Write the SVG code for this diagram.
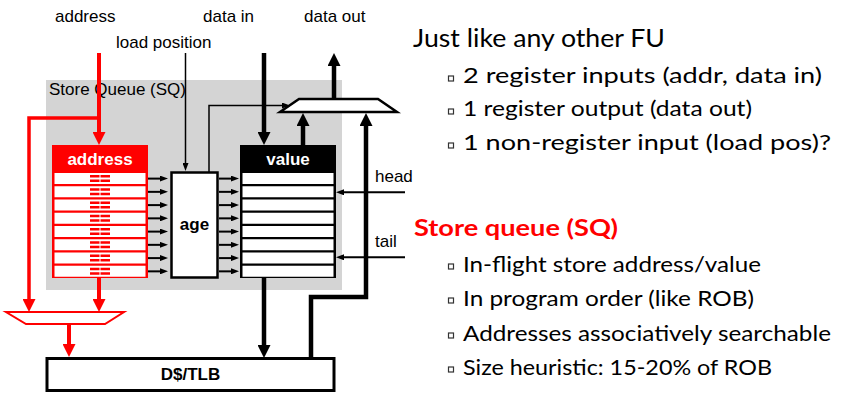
<svg xmlns="http://www.w3.org/2000/svg" width="847" height="420" viewBox="0 0 847 420">
<defs>
<style>
.lbl{font-family:"Liberation Sans",Arial,sans-serif;font-size:17px;fill:#000}
.bold{font-family:"Liberation Sans",Arial,sans-serif;font-size:17px;font-weight:bold}
.note{font-family:Lato,"Open Sans",sans-serif;font-size:22px;fill:#000}
.bul{fill:none;stroke:#333;stroke-width:1.2}
.red{stroke:#ff0000;fill:none}
.blk{stroke:#000;fill:none}
.row{fill:#fff}
.dash{fill:#ff0000}
</style>
<marker id="bigK" markerUnits="userSpaceOnUse" markerWidth="13" markerHeight="13" refX="1" refY="6.5" orient="auto"><path d="M0,0 L13,6.5 L0,13 z" fill="#000"/></marker>
<marker id="bigR" markerUnits="userSpaceOnUse" markerWidth="13" markerHeight="13" refX="1" refY="6.5" orient="auto"><path d="M0,0 L13,6.5 L0,13 z" fill="#ff0000"/></marker>
<marker id="smK" markerUnits="userSpaceOnUse" markerWidth="8" markerHeight="6" refX="1" refY="3" orient="auto"><path d="M0,0 L8,3 L0,6 z" fill="#000"/></marker>
<g id="dashpair"><rect class="dash" x="90" y="0" width="9.5" height="2.5"/><rect class="dash" x="100.5" y="0" width="9.5" height="2.5"/><rect class="dash" x="90" y="4.5" width="9.5" height="2.5"/><rect class="dash" x="100.5" y="4.5" width="9.5" height="2.5"/></g>
</defs>
<rect width="847" height="420" fill="#fff"/>

<g id="store-queue">
<rect x="46" y="80" width="296" height="210" fill="#d4d4d4"/>
<text class="lbl" x="49" y="95">Store Queue (SQ)</text>
</g>

<g id="label-address"><text class="lbl" x="55" y="22">address</text></g>
<g id="label-load-position"><text class="lbl" x="116" y="48">load position</text></g>
<g id="label-data-in"><text class="lbl" x="203" y="22">data in</text></g>
<g id="label-data-out"><text class="lbl" x="304" y="22">data out</text></g>
<g id="label-head"><text class="lbl" x="375" y="182">head</text></g>
<g id="label-tail"><text class="lbl" x="375" y="247">tail</text></g>

<g id="address-array">
<rect x="52" y="145" width="96" height="133" fill="#ff0000"/>
<text class="bold" x="100" y="165" text-anchor="middle" fill="#fff">address</text>
<rect class="row" x="54.5" y="173" width="91" height="11"/>
<rect class="row" x="54.5" y="186.25" width="91" height="11"/>
<rect class="row" x="54.5" y="199.5" width="91" height="11"/>
<rect class="row" x="54.5" y="212.75" width="91" height="11"/>
<rect class="row" x="54.5" y="226" width="91" height="11"/>
<rect class="row" x="54.5" y="239.25" width="91" height="11"/>
<rect class="row" x="54.5" y="252.5" width="91" height="11"/>
<rect class="row" x="54.5" y="265.75" width="91" height="11"/>
<use href="#dashpair" y="175"/>
<use href="#dashpair" y="188.25"/>
<use href="#dashpair" y="201.5"/>
<use href="#dashpair" y="214.75"/>
<use href="#dashpair" y="228"/>
<use href="#dashpair" y="241.25"/>
<use href="#dashpair" y="254.5"/>
<use href="#dashpair" y="267.75"/>
</g>

<g id="age">
<rect x="171.5" y="172.5" width="46" height="105" fill="#fff" stroke="#000" stroke-width="2.5"/>
<text class="bold" x="194.5" y="230" text-anchor="middle" fill="#000">age</text>
</g>

<g id="value-array">
<rect x="240" y="145" width="96" height="133" fill="#000"/>
<text class="bold" x="288" y="165" text-anchor="middle" fill="#fff">value</text>
<rect class="row" x="242.5" y="173" width="91" height="11"/>
<rect class="row" x="242.5" y="186.25" width="91" height="11"/>
<rect class="row" x="242.5" y="199.5" width="91" height="11"/>
<rect class="row" x="242.5" y="212.75" width="91" height="11"/>
<rect class="row" x="242.5" y="226" width="91" height="11"/>
<rect class="row" x="242.5" y="239.25" width="91" height="11"/>
<rect class="row" x="242.5" y="252.5" width="91" height="11"/>
<rect class="row" x="242.5" y="265.75" width="91" height="11"/>
</g>

<g id="mux-out">
<polygon points="299,99 378,99 397,112 280,112" fill="#fff" stroke="#000" stroke-width="2.5"/>
</g>

<g id="mux-addr">
<polygon points="6,312 124,312 105,324 26,324" fill="#fff" stroke="#ff0000" stroke-width="2"/>
</g>

<g id="dcache">
<rect x="47" y="358.5" width="287" height="32" fill="#fff" stroke="#000" stroke-width="3"/>
<text class="bold" x="190.5" y="380" text-anchor="middle" fill="#000">D$/TLB</text>
</g>

<g id="connectors">
<line class="red" x1="99" y1="53" x2="99" y2="133" stroke-width="4" marker-end="url(#bigR)"/>
<path class="red" d="M99,118 H29 V300" stroke-width="3.5" marker-end="url(#bigR)"/>
<line class="red" x1="99" y1="278" x2="99" y2="300" stroke-width="4" marker-end="url(#bigR)"/>
<line class="red" x1="69" y1="324" x2="69" y2="345" stroke-width="4" marker-end="url(#bigR)"/>
<line class="blk" x1="185.5" y1="53" x2="185.5" y2="164" stroke-width="1.5" marker-end="url(#smK)"/>
<line class="blk" x1="264" y1="53" x2="264" y2="133" stroke-width="4.5" marker-end="url(#bigK)"/>
<path class="blk" d="M209,172 V105.5 H283" stroke-width="1.5" marker-end="url(#smK)"/>
<line class="blk" x1="303" y1="145" x2="303" y2="125" stroke-width="4.5" marker-end="url(#bigK)"/>
<line class="blk" x1="334" y1="99" x2="334" y2="65" stroke-width="4.5" marker-end="url(#bigK)"/>
<path class="blk" d="M311,358 V297 H366 V125" stroke-width="4.5" marker-end="url(#bigK)"/>
<line class="blk" x1="264" y1="278" x2="264" y2="346" stroke-width="4.5" marker-end="url(#bigK)"/>
<line class="blk" x1="405" y1="192.3" x2="343" y2="192.3" stroke-width="2" marker-end="url(#smK)"/>
<line class="blk" x1="405" y1="257.3" x2="343" y2="257.3" stroke-width="2" marker-end="url(#smK)"/>
<g stroke-width="2" class="blk">
<line x1="148" y1="178.6" x2="161" y2="178.6" marker-end="url(#smK)"/>
<line x1="148" y1="191.85" x2="161" y2="191.85" marker-end="url(#smK)"/>
<line x1="148" y1="205.1" x2="161" y2="205.1" marker-end="url(#smK)"/>
<line x1="148" y1="218.35" x2="161" y2="218.35" marker-end="url(#smK)"/>
<line x1="148" y1="231.6" x2="161" y2="231.6" marker-end="url(#smK)"/>
<line x1="148" y1="244.85" x2="161" y2="244.85" marker-end="url(#smK)"/>
<line x1="148" y1="258.1" x2="161" y2="258.1" marker-end="url(#smK)"/>
<line x1="148" y1="271.35" x2="161" y2="271.35" marker-end="url(#smK)"/>
<line x1="219" y1="178.6" x2="232" y2="178.6" marker-end="url(#smK)"/>
<line x1="219" y1="191.85" x2="232" y2="191.85" marker-end="url(#smK)"/>
<line x1="219" y1="205.1" x2="232" y2="205.1" marker-end="url(#smK)"/>
<line x1="219" y1="218.35" x2="232" y2="218.35" marker-end="url(#smK)"/>
<line x1="219" y1="231.6" x2="232" y2="231.6" marker-end="url(#smK)"/>
<line x1="219" y1="244.85" x2="232" y2="244.85" marker-end="url(#smK)"/>
<line x1="219" y1="258.1" x2="232" y2="258.1" marker-end="url(#smK)"/>
<line x1="219" y1="271.35" x2="232" y2="271.35" marker-end="url(#smK)"/>
</g>
</g>

<g id="notes">
<text class="note" x="413" y="47" style="font-size:24.5px" textLength="252" lengthAdjust="spacingAndGlyphs">Just like any other FU</text>
<rect class="bul" x="448.5" y="76" width="5" height="5"/>
<text class="note" x="463" y="83" textLength="359" lengthAdjust="spacingAndGlyphs">2 register inputs (addr, data in)</text>
<rect class="bul" x="448.5" y="109" width="5" height="5"/>
<text class="note" x="463" y="116" textLength="289" lengthAdjust="spacingAndGlyphs">1 register output (data out)</text>
<rect class="bul" x="448.5" y="143" width="5" height="5"/>
<text class="note" x="463" y="150" textLength="368" lengthAdjust="spacingAndGlyphs">1 non-register input (load pos)?</text>
<text class="note" x="414" y="236" style="font-size:23px;font-weight:bold;fill:#ff0000" textLength="204" lengthAdjust="spacingAndGlyphs">Store queue (SQ)</text>
<rect class="bul" x="448.5" y="264" width="5" height="5"/>
<text class="note" x="463" y="272" textLength="298" lengthAdjust="spacingAndGlyphs">In-flight store address/value</text>
<rect class="bul" x="448.5" y="298" width="5" height="5"/>
<text class="note" x="463" y="306" textLength="291" lengthAdjust="spacingAndGlyphs">In program order (like ROB)</text>
<rect class="bul" x="448.5" y="333" width="5" height="5"/>
<text class="note" x="463" y="341" textLength="368" lengthAdjust="spacingAndGlyphs">Addresses associatively searchable</text>
<rect class="bul" x="448.5" y="367" width="5" height="5"/>
<text class="note" x="463" y="375" textLength="309" lengthAdjust="spacingAndGlyphs">Size heuristic: 15-20% of ROB</text>
</g>
</svg>
